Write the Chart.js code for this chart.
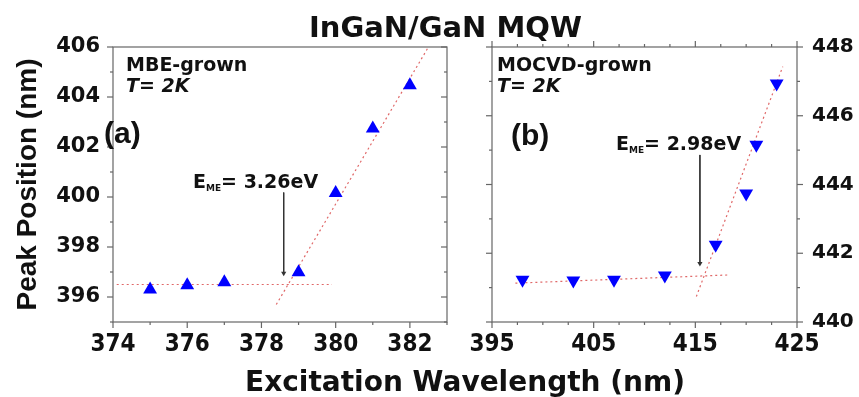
<!DOCTYPE html>
<html>
<head>
<meta charset="utf-8">
<script src="https://cdn.jsdelivr.net/npm/chart.js@4.4.0/dist/chart.umd.min.js"></script>
<style>
body { margin: 0; background: #fff; width: 859px; height: 397px; overflow: hidden; position: relative; color: #111; }
canvas { position: absolute; top: 0; }
.t { position: absolute; white-space: nowrap; line-height: 1; font-weight: bold; font-family: "DejaVu Sans", sans-serif; }
.sub { font-size: 9px; vertical-align: -3px; }
</style>
</head>
<body>
<canvas id="chartA" width="455" height="397" style="left:0;width:455px;height:397px"></canvas>
<canvas id="chartB" width="404" height="397" style="left:455px;width:404px;height:397px"></canvas>

<div class="t" style="left:0;width:891px;text-align:center;top:13px;font-size:29px">InGaN/GaN MQW</div>
<div class="t" style="left:0;width:930px;text-align:center;top:368px;font-size:28px">Excitation Wavelength (nm)</div>

<div class="t" style="left:126px;top:55px;font-size:19px">MBE-grown</div>
<div class="t" style="left:126px;top:76px;font-size:19px;font-style:italic">T= 2K</div>
<div class="t" style="left:104px;top:118px;font-size:30px;font-family:'Liberation Sans',Arial,sans-serif">(a)</div>
<div class="t" style="left:193px;top:172px;font-size:19px">E<span class="sub">ME</span>= 3.26eV</div>

<div class="t" style="left:497px;top:55px;font-size:19px">MOCVD-grown</div>
<div class="t" style="left:497px;top:76px;font-size:19px;font-style:italic">T= 2K</div>
<div class="t" style="left:511px;top:120px;font-size:30px;font-family:'Liberation Sans',Arial,sans-serif">(b)</div>
<div class="t" style="left:616px;top:134px;font-size:19px">E<span class="sub">ME</span>= 2.98eV</div>

<script>
// (a) MBE-grown, T = 2K
const mbeWavelength = [375, 376, 377, 379, 380, 381, 382];
const mbePeak = [396.30, 396.47, 396.59, 396.99, 400.16, 402.74, 404.47];
const mbeFlatX = [374.1, 379.9];
const mbeFlatY = [396.5, 396.5];
const mbeSteepX = [378.4, 382.5];
const mbeSteepY = [395.7, 406.0];
const mbeArrowX = [378.6, 378.6];
const mbeArrowY = [400.18, 396.95];
const mbeXTicks = [374, 376, 378, 380, 382];
const mbeYTicks = [396, 398, 400, 402, 404, 406];

// (b) MOCVD-grown, T = 2K
const mocvdWavelength = [398, 403, 407, 412, 417, 420, 421, 423];
const mocvdPeak = [441.23, 441.21, 441.23, 441.35, 442.25, 443.74, 445.16, 446.94];
const mocvdFlatX = [397.3, 418.4];
const mocvdFlatY = [441.13, 441.37];
const mocvdSteepX = [415.1, 423.6];
const mocvdSteepY = [440.74, 447.43];
const mocvdArrowX = [415.45, 415.45];
const mocvdArrowY = [444.86, 441.7];
const mocvdXTicks = [395, 405, 415, 425];
const mocvdYTicks = [440, 442, 444, 446, 448];

const pts = (xs, ys) => xs.map((x, i) => ({ x: x, y: ys[i] }));

// frame + major/minor ticks for each panel
const tickSpec = {
    chartA: {
        x: { major: mbeXTicks, minor: 1, sides: [['bottom', 1]] },
        y: { major: mbeYTicks, minor: 1, sides: [['left', -1], ['right', -1]] }
    },
    chartB: {
        x: { major: mocvdXTicks, minor: 2.5, sides: [['bottom', 1], ['top', -1]] },
        y: { major: mocvdYTicks, minor: 1, sides: [['left', -1], ['right', 1]] }
    }
};

const framePlugin = {
    id: 'frame',
    afterDraw(chart) {
        const spec = tickSpec[chart.canvas.id];
        const a = chart.chartArea;
        const ctx = chart.ctx;
        ctx.save();
        ctx.strokeStyle = '#666';
        ctx.lineWidth = 1.2;
        ctx.strokeRect(a.left, a.top, a.right - a.left, a.bottom - a.top);
        ['x', 'y'].forEach(function(key) {
            const sc = chart.scales[key];
            const s = spec[key];
            for (let v = sc.min; v <= sc.max + 1e-9; v += s.minor) {
                const len = s.major.indexOf(v) >= 0 ? 6 : 3;
                const p = sc.getPixelForValue(v);
                s.sides.forEach(function(sd) {
                    const side = sd[0], sign = sd[1];
                    ctx.beginPath();
                    if (side === 'bottom') { ctx.moveTo(p, a.bottom); ctx.lineTo(p, a.bottom + sign * len); }
                    if (side === 'top') { ctx.moveTo(p, a.top); ctx.lineTo(p, a.top + sign * len); }
                    if (side === 'left') { ctx.moveTo(a.left, p); ctx.lineTo(a.left + sign * len, p); }
                    if (side === 'right') { ctx.moveTo(a.right, p); ctx.lineTo(a.right + sign * len, p); }
                    ctx.stroke();
                });
            }
        });
        ctx.restore();
    }
};

const xTickFont = { family: "'Liberation Sans Narrow', 'DejaVu Sans Condensed', sans-serif", weight: 'bold', size: 24 };
const yTickFont = { family: "'DejaVu Sans', sans-serif", weight: 'bold', size: 21 };
const fitColor = '#e06868';

function fitLine(data) {
    return { type: 'line', data: data, borderColor: fitColor, borderWidth: 1.2, borderDash: [2, 3], pointRadius: 0, fill: false };
}
function arrow(data) {
    return { type: 'line', data: data, borderColor: '#333', borderWidth: 1, backgroundColor: '#333',
             pointRadius: [0, 3], pointStyle: 'triangle', pointRotation: 180, pointBorderWidth: 0, fill: false };
}
function setTicks(list) {
    return function(scale) { scale.ticks = list.map(function(v) { return { value: v }; }); };
}

new Chart(document.getElementById('chartA'), {
    type: 'scatter',
    data: {
        datasets: [
            { data: pts(mbeWavelength, mbePeak), pointStyle: 'triangle', pointRadius: 8,
              backgroundColor: '#0000ff', borderColor: '#0000ff', borderWidth: 0 },
            arrow(pts(mbeArrowX, mbeArrowY)),
            fitLine(pts(mbeFlatX, mbeFlatY)),
            fitLine(pts(mbeSteepX, mbeSteepY))
        ]
    },
    options: {
        responsive: false,
        animation: false,
        devicePixelRatio: 1,
        layout: { padding: { top: 47, right: 7, bottom: 0, left: 0 } },
        plugins: { legend: { display: false }, tooltip: { enabled: false } },
        scales: {
            x: {
                type: 'linear', min: 374, max: 383,
                afterBuildTicks: setTicks(mbeXTicks),
                afterFit: function(s) { s.height = 75; },
                grid: { display: false, drawTicks: false },
                border: { display: false },
                ticks: { padding: 8, font: xTickFont, color: '#111', maxRotation: 0 }
            },
            y: {
                type: 'linear', min: 395, max: 406,
                afterBuildTicks: setTicks(mbeYTicks),
                afterFit: function(s) { s.width = 113; },
                grid: { display: false, drawTicks: false },
                border: { display: false },
                ticks: { padding: 13, font: yTickFont, color: '#111' },
                title: { display: true, text: 'Peak Position (nm)', color: '#111',
                         font: { family: "'Liberation Sans', Arial, sans-serif", weight: 'bold', size: 28 },
                         padding: { top: 11, bottom: 0 } }
            }
        }
    },
    plugins: [framePlugin]
});

new Chart(document.getElementById('chartB'), {
    type: 'scatter',
    data: {
        datasets: [
            { data: pts(mocvdWavelength, mocvdPeak), pointStyle: 'triangle', pointRotation: 180, pointRadius: 8,
              backgroundColor: '#0000ff', borderColor: '#0000ff', borderWidth: 0 },
            arrow(pts(mocvdArrowX, mocvdArrowY)),
            fitLine(pts(mocvdFlatX, mocvdFlatY)),
            fitLine(pts(mocvdSteepX, mocvdSteepY))
        ]
    },
    options: {
        responsive: false,
        animation: false,
        devicePixelRatio: 1,
        layout: { padding: { top: 47, right: 0, bottom: 0, left: 37 } },
        plugins: { legend: { display: false }, tooltip: { enabled: false } },
        scales: {
            x: {
                type: 'linear', min: 395, max: 425,
                afterBuildTicks: setTicks(mocvdXTicks),
                afterFit: function(s) { s.height = 75; },
                grid: { display: false, drawTicks: false },
                border: { display: false },
                ticks: { padding: 8, font: xTickFont, color: '#111', maxRotation: 0 }
            },
            y: {
                type: 'linear', position: 'right', min: 440, max: 448,
                afterBuildTicks: setTicks(mocvdYTicks),
                afterFit: function(s) { s.width = 62; },
                grid: { display: false, drawTicks: false },
                border: { display: false },
                ticks: { padding: 15, font: { family: "'DejaVu Sans', sans-serif", weight: 'bold', size: 20 }, color: '#111' }
            }
        }
    },
    plugins: [framePlugin]
});
</script>
</body>
</html>
